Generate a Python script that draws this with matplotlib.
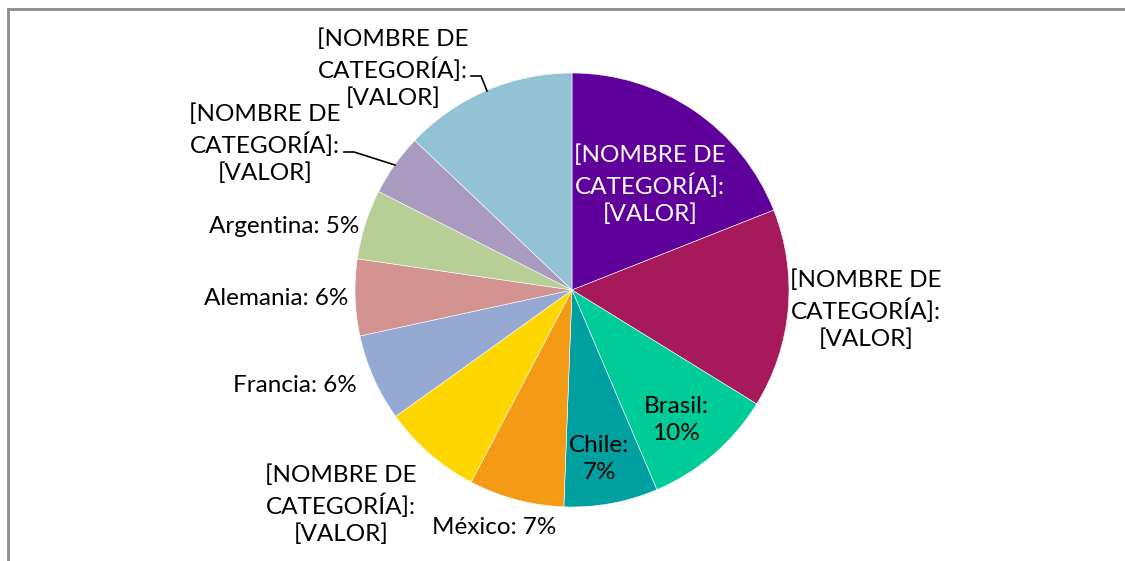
import matplotlib
matplotlib.use("Agg")
import matplotlib.pyplot as plt

matplotlib.rcParams["font.family"] = ["Lato", "DejaVu Sans"]

# slice data, clockwise from 12 o'clock
categories = ["[NOMBRE DE CATEGORÍA] 1", "[NOMBRE DE CATEGORÍA] 2", "Brasil", "Chile",
              "México", "[NOMBRE DE CATEGORÍA] 3", "Francia", "Alemania",
              "Argentina", "[NOMBRE DE CATEGORÍA] 4", "[NOMBRE DE CATEGORÍA] 5"]
values = [19.0, 14.8, 9.8, 7.0, 7.1, 7.4, 6.5, 5.7, 5.2, 4.6, 12.9]
label_texts = ["[NOMBRE DE\nCATEGORÍA]:\n[VALOR]", "[NOMBRE DE\nCATEGORÍA]:\n[VALOR]",
               "Brasil:\n10%", "Chile:\n7%", "México: 7%",
               "[NOMBRE DE\nCATEGORÍA]:\n[VALOR]", "Francia: 6%", "Alemania: 6%",
               "Argentina: 5%", "[NOMBRE DE\nCATEGORÍA]:\n[VALOR]",
               "[NOMBRE DE\nCATEGORÍA]:\n[VALOR]"]
colors = ["#5F009A", "#A6195A", "#00CC99", "#00A0A0", "#F59A14", "#FFD600",
          "#95A9D3", "#D39391", "#B8CE97", "#A99AC0", "#93C2D4"]

W, H = 1125, 561


def px(x, y):
    # pixel position (y down) -> data coords (y up)
    return x, H - y


fig = plt.figure(figsize=(W / 100, H / 100), dpi=100)
ax = fig.add_axes([0, 0, 1, 1])

cx, cy = px(572, 290)
R = 217
wedges, _ = ax.pie(values, colors=colors, startangle=90, counterclock=False,
                   center=(cx, cy), radius=R,
                   wedgeprops=dict(edgecolor="white", linewidth=0.4))

ax.set_xlim(0, W)
ax.set_ylim(0, H)
ax.set_aspect("equal")
ax.axis("off")

# chart frame (only top and left edges are visible in the crop)
ax.add_line(plt.Line2D([7.5, 7.5], [0, H - 9], color="#8c8c8c", linewidth=2))
ax.add_line(plt.Line2D([7.5, W], [H - 9, H - 9], color="#8c8c8c", linewidth=2))

# label layout (pixel positions)
label_pos = [(650, 185), (866, 310), (676, 420), (599, 459), (494, 528),
             (341, 505), (295, 386), (276, 298), (284, 226), (265, 144),
             (393, 69)]
label_colors = ["white"] + ["black"] * 10

for txt, pos, c in zip(label_texts, label_pos, label_colors):
    x, y = px(*pos)
    ax.text(x, y, txt, ha="center", va="center", fontsize=17.5, color=c,
            linespacing=1.33)

# leader lines
for pts in ([(344, 152), (354, 152), (395, 165)],
            [(471, 76), (481, 76), (487, 91)]):
    xs = [p[0] for p in pts]
    ys = [H - p[1] for p in pts]
    ax.add_line(plt.Line2D(xs, ys, color="black", linewidth=1.2))

fig.savefig("out.png", dpi=100)
